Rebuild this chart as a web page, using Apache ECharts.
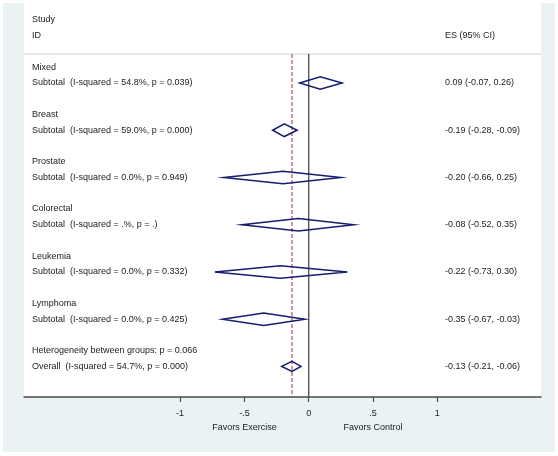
<!DOCTYPE html>
<html>
<head>
<meta charset="utf-8">
<script src="https://cdn.jsdelivr.net/npm/echarts@6/dist/echarts.min.js"></script>
<style>html,body{margin:0;padding:0;background:#fff}#c{width:558px;height:456px}</style>
</head>
<body>
<div id="c"></div>
<script>
var groups = ['Mixed', 'Breast', 'Prostate', 'Colorectal', 'Leukemia', 'Lymphoma'];
var subtotalLabels = [
  'Subtotal  (I-squared = 54.8%, p = 0.039)',
  'Subtotal  (I-squared = 59.0%, p = 0.000)',
  'Subtotal  (I-squared = 0.0%, p = 0.949)',
  'Subtotal  (I-squared = .%, p = .)',
  'Subtotal  (I-squared = 0.0%, p = 0.332)',
  'Subtotal  (I-squared = 0.0%, p = 0.425)'
];
var esValues = [0.09, -0.19, -0.20, -0.08, -0.22, -0.35];
var ciLow = [-0.07, -0.28, -0.66, -0.52, -0.73, -0.67];
var ciHigh = [0.26, -0.09, 0.25, 0.35, 0.30, -0.03];
var heterogeneityLabel = 'Heterogeneity between groups: p = 0.066';
var overallLabel = 'Overall  (I-squared = 54.7%, p = 0.000)';
var overallES = -0.13, overallLow = -0.21, overallHigh = -0.06;
var tickValues = [-1, -0.5, 0, 0.5, 1];
var tickLabels = ['-1', '-.5', '0', '.5', '1'];
var favorValues = [-0.5, 0.5];
var favorLabels = ['Favors Exercise', 'Favors Control'];

var FONT = '"Liberation Sans", Arial, sans-serif';
var XMIN = -2.2138, XMAX = 1.8064;
var YMIN = -1.08, YMAX = 23.94;
var SEP_ROW = 2.16;

function fmt(v) { return v.toFixed(2); }

var textRows = [[0, 'Study', 0], [1, 'ID', 0], [1, 'ES (95% CI)', 1]];
var diamonds = [];
groups.forEach(function (g, i) {
  var r = 3 + 3 * i;
  textRows.push([r, g, 0]);
  textRows.push([r + 1, subtotalLabels[i], 0]);
  textRows.push([r + 1, fmt(esValues[i]) + ' (' + fmt(ciLow[i]) + ', ' + fmt(ciHigh[i]) + ')', 1]);
  diamonds.push([r + 1, ciLow[i], esValues[i], ciHigh[i], 6.3]);
});
textRows.push([21, heterogeneityLabel, 0]);
textRows.push([22, overallLabel, 0]);
textRows.push([22, fmt(overallES) + ' (' + fmt(overallLow) + ', ' + fmt(overallHigh) + ')', 1]);
diamonds.push([22, overallLow, overallES, overallHigh, 5]);

var chart = echarts.init(document.getElementById('c'), null, { renderer: 'canvas' });
chart.setOption({
  backgroundColor: '#ffffff',
  animation: false,
  graphic: [{
    type: 'rect', z: -10, silent: true,
    shape: { x: 3, y: 3, width: 552, height: 449 },
    style: { fill: '#eaf2f3' }
  }],
  grid: {
    left: 24, right: 17, top: 3, bottom: 59,
    show: true, backgroundColor: '#ffffff', borderWidth: 0
  },
  xAxis: [{
    type: 'value', min: XMIN, max: XMAX, position: 'bottom',
    splitLine: { show: false },
    axisLine: { show: true, onZero: false, lineStyle: { color: '#4a4a4a', width: 1.5 } },
    axisTick: { show: true, length: 5, customValues: tickValues, lineStyle: { color: '#4a4a4a', width: 1.2 } },
    axisLabel: {
      show: true, customValues: tickValues, margin: 12,
      fontFamily: FONT, fontSize: 9, color: '#222',
      formatter: function (v) {
        for (var i = 0; i < tickValues.length; i++) if (Math.abs(tickValues[i] - v) < 1e-9) return tickLabels[i];
        return '';
      }
    }
  }, {
    type: 'value', min: XMIN, max: XMAX, position: 'bottom',
    splitLine: { show: false }, axisLine: { show: false }, axisTick: { show: false },
    axisLabel: {
      show: true, customValues: favorValues, margin: 26,
      fontFamily: FONT, fontSize: 9, color: '#222',
      formatter: function (v) {
        for (var i = 0; i < favorValues.length; i++) if (Math.abs(favorValues[i] - v) < 1e-9) return favorLabels[i];
        return '';
      }
    }
  }],
  yAxis: {
    type: 'value', inverse: true, min: YMIN, max: YMAX, show: false
  },
  series: [
    {
      type: 'line', silent: true, symbol: 'none', z: 2,
      data: [[XMIN, SEP_ROW], [XMAX, SEP_ROW]],
      lineStyle: { color: '#d0d0d0', width: 1 }
    },
    {
      type: 'line', silent: true, symbol: 'none', z: 3,
      data: [[0, SEP_ROW], [0, YMAX]],
      lineStyle: { color: '#555555', width: 1.4 }
    },
    {
      type: 'line', silent: true, symbol: 'none', z: 3,
      data: [[overallES, SEP_ROW], [overallES, YMAX]],
      lineStyle: { color: '#90353b', width: 1, type: [4, 2] }
    },
    {
      type: 'custom', silent: true, z: 5,
      data: diamonds,
      renderItem: function (params, api) {
        var row = api.value(0), h = api.value(4);
        var pl = api.coord([api.value(1), row]);
        var pc = api.coord([api.value(2), row]);
        var ph = api.coord([api.value(3), row]);
        return {
          type: 'polygon',
          shape: { points: [[pl[0], pl[1]], [pc[0], pc[1] - h], [ph[0], ph[1]], [pc[0], pc[1] + h]] },
          style: { fill: 'none', stroke: '#141c6e', lineWidth: 1.5 }
        };
      }
    },
    {
      type: 'custom', silent: true, z: 6,
      data: textRows.map(function (t) { return [t[0], t[2], t[1]]; }),
      dimensions: ['row', 'col', 'text'],
      renderItem: function (params, api) {
        var row = api.value(0), col = api.value(1);
        var item = textRows[params.dataIndex];
        var y = api.coord([0, row])[1];
        return {
          type: 'text',
          style: {
            x: col === 0 ? 32 : 445, y: y,
            text: item[1],
            fill: '#222', font: '9px ' + FONT,
            textAlign: 'left', textVerticalAlign: 'middle'
          }
        };
      }
    }
  ]
});
</script>
</body>
</html>
